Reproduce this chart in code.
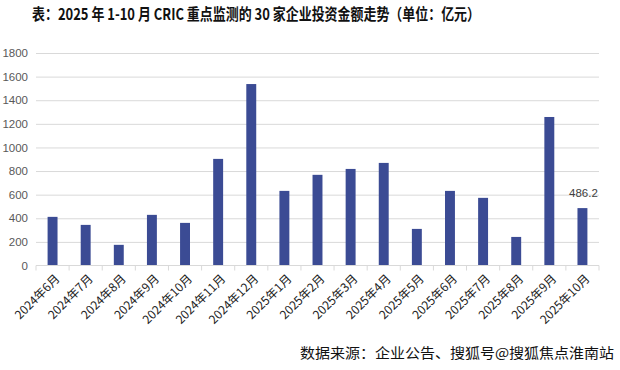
<!DOCTYPE html>
<html>
<head>
<meta charset="utf-8">
<script src="https://cdn.jsdelivr.net/npm/d3@7"></script>
<style>
  body { margin: 0; background: #fff; }
  svg { display: block; font-family: "Noto Sans CJK SC", "Noto Sans", sans-serif; }
</style>
</head>
<body>
<div class="chart-container"></div>
<script>
(function() {
  ////////////////////////////////////////////////////////////
  //// Data //////////////////////////////////////////////////
  ////////////////////////////////////////////////////////////
  const months = [
    "2024年6月", "2024年7月", "2024年8月", "2024年9月", "2024年10月",
    "2024年11月", "2024年12月", "2025年1月", "2025年2月", "2025年3月",
    "2025年4月", "2025年5月", "2025年6月", "2025年7月", "2025年8月",
    "2025年9月", "2025年10月"
  ];
  const amounts = [
    412, 344, 175, 429, 361, 903, 1537, 632, 768, 818,
    869, 310, 632, 573, 242, 1258, 486.2
  ];
  const yTicks = [0, 200, 400, 600, 800, 1000, 1200, 1400, 1600, 1800];
  const labelled = ["2025年10月"];

  const title = "表：2025 年 1-10 月 CRIC 重点监测的 30 家企业投资金额走势（单位：亿元）";
  const source = "数据来源：企业公告、搜狐号@搜狐焦点淮南站";

  ////////////////////////////////////////////////////////////
  //// Chart /////////////////////////////////////////////////
  ////////////////////////////////////////////////////////////
  const chartWidth = 620;
  const chartHeight = 370;
  const margin = { top: 53, right: 21, bottom: 104.5, left: 36 };
  const width = chartWidth - margin.left - margin.right;
  const height = chartHeight - margin.top - margin.bottom;

  const xScale = d3
    .scaleBand()
    .domain(months)
    .range([0, width])
    .paddingInner(0.7)
    .paddingOuter(0.35);

  const yScale = d3
    .scaleLinear()
    .domain([0, 1800])
    .range([height, 0]);

  const svg = d3
    .select(".chart-container")
    .append("svg")
    .attr("width", chartWidth)
    .attr("height", chartHeight)
    .attr("viewBox", [0, 0, chartWidth, chartHeight]);

  svg
    .append("text")
    .attr("x", 32)
    .attr("y", 20)
    .attr("font-size", 16)
    .attr("font-weight", "bold")
    .attr("fill", "#111")
    .attr("textLength", 448)
    .attr("lengthAdjust", "spacingAndGlyphs")
    .text(title);

  const g = svg
    .append("g")
    .attr("transform", `translate(${margin.left},${margin.top})`);

  // grid + y labels
  g.append("g")
    .attr("class", "y axis")
    .call(
      d3
        .axisLeft(yScale)
        .tickValues(yTicks)
        .tickFormat(d3.format("d"))
        .tickSize(-width)
        .tickPadding(8)
    )
    .call(g => g.select(".domain").remove())
    .call(g =>
      g
        .selectAll(".tick line")
        .attr("stroke", "#d9d9d9")
        .attr("stroke-width", 1)
        .filter(d => d === 0)
        .remove()
    )
    .call(g =>
      g
        .selectAll(".tick text")
        .attr("fill", "#595959")
        .attr("font-size", 11.5)
        .attr("font-family", "Liberation Sans, Arial, sans-serif")
    );

  // bars
  g.append("g")
    .selectAll("rect")
    .data(months)
    .join("rect")
    .attr("x", d => xScale(d))
    .attr("y", (d, i) => yScale(amounts[i]))
    .attr("width", xScale.bandwidth())
    .attr("height", (d, i) => height - yScale(amounts[i]))
    .attr("fill", "#3b4b94");

  // data label
  g.append("g")
    .selectAll("text")
    .data(months.filter(d => labelled.includes(d)))
    .join("text")
    .attr("x", d => xScale(d) + xScale.bandwidth() / 2 + 1)
    .attr("y", d => yScale(amounts[months.indexOf(d)]) - 11)
    .attr("text-anchor", "middle")
    .attr("font-size", 11.5)
    .attr("font-family", "Liberation Sans, Arial, sans-serif")
    .attr("fill", "#404040")
    .text(d => amounts[months.indexOf(d)]);

  // x axis
  const step = xScale.step();
  const xAxis = g
    .append("g")
    .attr("class", "x axis")
    .attr("transform", `translate(0,${height})`);
  xAxis
    .append("line")
    .attr("x1", 0)
    .attr("x2", width)
    .attr("stroke", "#d9d9d9");
  xAxis
    .selectAll(".sep")
    .data(d3.range(months.length + 1))
    .join("line")
    .attr("class", "sep")
    .attr("x1", i => i * step)
    .attr("x2", i => i * step)
    .attr("y1", 0)
    .attr("y2", 5)
    .attr("stroke", "#d9d9d9");
  xAxis
    .selectAll(".lbl")
    .data(months)
    .join("text")
    .attr("class", "lbl")
    .attr("text-anchor", "end")
    .attr("font-size", 12)
    .attr("fill", "#222")
    .attr(
      "transform",
      d =>
        `translate(${xScale(d) + xScale.bandwidth() / 2 + 8},${14}) rotate(-45)`
    )
    .text(d => d);

  svg
    .append("text")
    .attr("x", 300)
    .attr("y", 358)
    .attr("font-size", 14)
    .attr("fill", "#111")
    .attr("textLength", 314)
    .attr("lengthAdjust", "spacingAndGlyphs")
    .text(source);
})();
</script>
</body>
</html>
